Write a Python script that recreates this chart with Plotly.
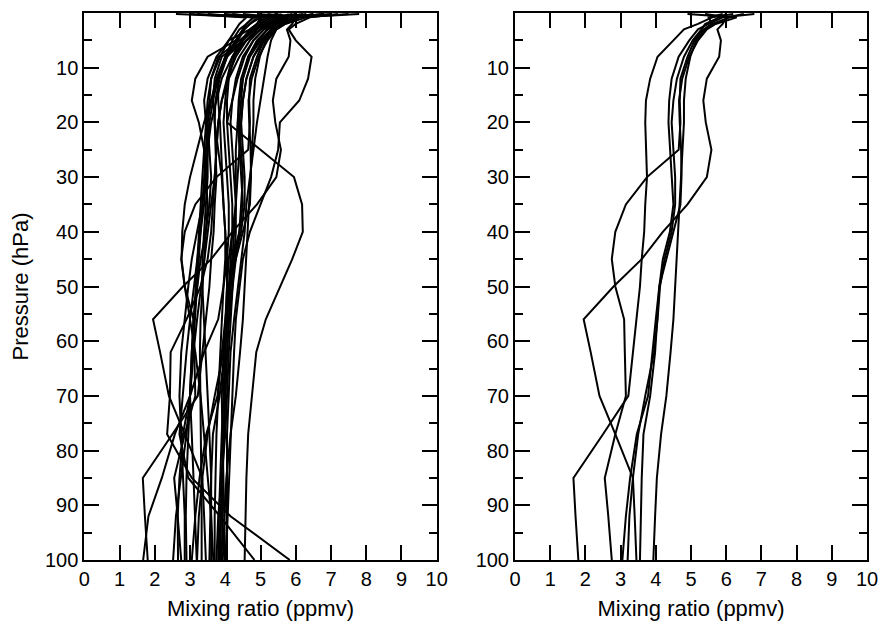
import plotly.graph_objects as go

# ---------------- data ----------------
pressure_hpa = [0.2, 0.8, 2, 3, 5, 8, 12, 16, 20, 25, 30, 35, 40, 45, 50, 56, 62, 70, 77, 85, 92, 100]

# profiles that appear in both panels (mixing ratio, ppmv, at pressure_hpa)
shared_profiles = [
    [6.2, 5.6, 5.2, 4.8, 4.5, 4.05, 3.84, 3.72, 3.7, 3.72, 3.75, 3.7, 3.67, 3.6, 3.55, 3.45, 3.35, 3.22, 2.5, 1.66, 1.72, 1.8],
    [6.5, 6.0, 5.9, 5.75, 5.85, 5.8, 5.45, 5.35, 5.42, 5.58, 5.45, 4.9, 4.2, 3.6, 2.8, 1.95, 2.15, 2.4, 2.85, 3.35, 3.4, 3.45],
    [5.4, 6.1, 5.6, 5.35, 5.1, 4.9, 4.7, 4.68, 4.7, 4.65, 3.75, 3.15, 2.85, 2.75, 2.85, 3.1, 3.12, 3.15, 2.85, 2.55, 2.65, 2.75],
    [6.8, 5.9, 5.5, 5.2, 4.95, 4.65, 4.45, 4.38, 4.36, 4.4, 4.45, 4.5, 4.4, 4.2, 4.1, 4.05, 3.98, 3.84, 3.65, 3.6, 3.57, 3.55],
    [4.9, 6.3, 5.7, 5.45, 5.2, 4.95, 4.75, 4.66, 4.68, 4.72, 4.73, 4.7, 4.5, 4.3, 4.1, 4.0, 3.9, 3.78, 3.46, 3.27, 3.15, 3.05],
    [5.9, 5.5, 5.6, 5.4, 5.15, 4.98, 4.85, 4.8, 4.8, 4.76, 4.72, 4.68, 4.64, 4.6, 4.55, 4.5, 4.42, 4.3, 4.15, 4.03, 3.98, 3.93],
    [6.0, 5.8, 5.4, 5.3, 5.05, 4.8, 4.6, 4.5, 4.45, 4.5, 4.55, 4.55, 4.45, 4.25, 4.12, 4.05, 3.95, 3.7, 3.5, 3.35, 3.25, 3.2],
]

# profiles that appear only in the left panel
left_only_profiles = [
    [7.2, 6.4, 6.0, 5.8, 6.0, 6.45, 6.35, 6.1, 5.55, 5.5, 5.3, 5.0, 4.7, 4.5, 4.4, 4.3, 4.25, 4.2, 4.15, 4.1, 4.05, 4.02],
    [7.8, 6.0, 5.4, 5.1, 4.8, 4.55, 4.35, 4.2, 4.05, 5.0, 5.95, 6.18, 6.2, 5.9, 5.55, 5.15, 4.88, 4.75, 4.65, 4.6, 4.57, 4.55],
    [5.5, 5.0, 4.7, 4.5, 4.3, 3.5, 3.15, 3.05, 3.25, 3.4, 3.45, 3.5, 3.45, 3.4, 3.35, 3.3, 3.28, 3.3, 3.3, 3.32, 3.33, 3.33],
    [4.5, 5.5, 5.2, 5.0, 4.7, 4.4, 4.1, 3.9, 3.8, 3.75, 3.7, 3.65, 3.6, 3.5, 3.3, 2.9, 2.45, 2.43, 2.35, 3.05, 4.15, 5.83],
    [6.8, 5.7, 5.3, 5.0, 4.6, 4.2, 3.9, 3.75, 3.6, 3.5, 3.45, 3.4, 3.3, 3.2, 3.1, 3.0, 2.9, 2.8, 2.7, 2.95, 3.85, 4.83],
    [3.2, 5.0, 4.9, 4.7, 4.45, 4.2, 4.05, 4.0, 3.95, 4.0, 4.05, 4.1, 4.1, 4.05, 3.95, 3.8, 3.4, 3.0, 2.57, 2.2, 1.82, 1.67],
    [5.0, 4.8, 4.6, 4.4, 4.2, 4.0, 3.8, 3.6, 3.4, 3.2, 3.0, 2.85, 2.78, 2.76, 2.85, 3.0, 3.15, 3.3, 3.4, 3.5, 3.6, 3.66],
    [5.8, 5.6, 5.3, 5.1, 4.8, 4.5, 4.3, 4.2, 4.15, 4.2, 4.25, 4.3, 4.3, 4.25, 4.2, 4.15, 4.1, 4.05, 4.0, 3.9, 3.8, 3.75],
    [4.0, 5.3, 5.0, 4.85, 4.5, 3.9, 3.7, 3.65, 3.7, 3.8, 3.9, 3.95, 4.0, 4.05, 4.05, 4.02, 4.0, 3.95, 3.9, 3.85, 3.82, 3.8],
    [6.5, 6.0, 5.6, 5.3, 5.0, 4.7, 4.5, 4.4, 4.35, 4.3, 4.3, 4.3, 4.25, 4.2, 4.15, 4.1, 4.05, 4.0, 3.95, 3.9, 3.88, 3.85],
    [3.5, 4.8, 4.6, 4.5, 4.3, 4.0, 3.75, 3.6, 3.5, 3.45, 3.4, 3.35, 3.3, 3.25, 3.2, 3.15, 3.1, 3.0, 2.9, 2.75, 2.6, 2.52],
    [7.0, 5.5, 5.2, 5.0, 4.6, 4.0, 3.8, 3.8, 3.85, 3.88, 3.9, 3.95, 4.0, 4.0, 3.95, 3.9, 3.85, 3.8, 3.75, 3.72, 3.7, 3.7],
    [5.2, 6.0, 5.6, 5.4, 5.1, 4.8, 4.6, 4.5, 4.45, 4.4, 4.35, 4.3, 4.2, 4.1, 4.05, 4.0, 3.95, 3.9, 3.92, 3.95, 3.97, 4.0],
    [3.0, 4.6, 4.4, 4.3, 4.1, 3.85, 3.6, 3.5, 3.45, 3.4, 3.35, 3.3, 3.25, 3.2, 3.15, 3.1, 3.05, 3.0, 2.95, 2.9, 2.88, 2.9],
    [6.0, 5.4, 5.1, 4.9, 4.6, 4.3, 4.05, 3.9, 3.8, 3.75, 3.7, 3.6, 3.5, 3.4, 3.3, 3.2, 3.1, 3.0, 2.8, 2.7, 2.65, 2.66],
    [5.6, 5.3, 5.0, 4.8, 4.4, 3.8, 3.6, 3.55, 3.5, 3.55, 3.6, 3.55, 3.45, 3.3, 3.2, 3.1, 3.05, 3.0, 3.05, 3.1, 3.15, 3.19],
    [4.2, 5.1, 4.9, 4.75, 4.5, 4.25, 4.1, 4.05, 4.05, 4.1, 4.15, 4.2, 4.2, 4.15, 4.1, 4.05, 4.0, 3.98, 3.95, 3.93, 3.92, 3.9],
    [6.3, 5.7, 5.4, 5.2, 4.9, 4.65, 4.5, 4.45, 4.4, 4.45, 4.5, 4.45, 4.4, 4.3, 4.2, 4.1, 4.05, 4.0, 3.95, 3.9, 3.85, 3.82],
    [5.0, 5.2, 4.9, 4.7, 4.1, 3.75, 3.5, 3.4, 3.45, 3.5, 3.5, 3.45, 3.4, 3.35, 3.35, 3.4, 3.45, 3.5, 3.55, 3.6, 3.6, 3.6],
    [7.5, 6.1, 5.7, 5.45, 5.3, 5.2, 5.1, 5.0, 4.9, 4.8, 4.7, 4.6, 4.55, 4.45, 4.35, 4.25, 4.15, 4.1, 4.05, 4.05, 4.05, 4.05],
    [2.6, 4.9, 4.7, 4.55, 4.35, 4.05, 3.8, 3.65, 3.55, 3.5, 3.45, 3.35, 3.2, 3.05, 2.95, 2.85, 2.75, 2.7, 2.75, 2.8, 2.85, 2.85],
]

x_tick_values = list(range(0, 11))
y_tick_values = [10, 20, 30, 40, 50, 60, 70, 80, 90, 100]
y_minor_values = [5, 15, 25, 35, 45, 55, 65, 75, 85, 95]

x_title = "Mixing ratio (ppmv)"
y_title = "Pressure (hPa)"

# ---------------- figure ----------------
FONT = "Liberation Sans, Arial, Helvetica, sans-serif"
LINE = dict(color="black", width=2)

fig = go.Figure()

for prof in shared_profiles + left_only_profiles:
    fig.add_trace(go.Scatter(x=prof, y=pressure_hpa, mode="lines", line=LINE,
                             xaxis="x", yaxis="y", showlegend=False, hoverinfo="skip"))
for prof in shared_profiles:
    fig.add_trace(go.Scatter(x=prof, y=pressure_hpa, mode="lines", line=LINE,
                             xaxis="x2", yaxis="y2", showlegend=False, hoverinfo="skip"))

W, H = 882, 621
ml, mr, mt, mb = 84, 15, 13, 61
pw = W - ml - mr


def xaxis(domain, anchor):
    return dict(
        domain=domain, anchor=anchor, range=[0, 10], tickvals=x_tick_values,
        ticks="inside", ticklen=15, tickwidth=1.8, tickcolor="black",
        showline=True, linecolor="black", linewidth=2, mirror="allticks",
        showgrid=False, zeroline=False, automargin=False,
        tickfont=dict(family=FONT, size=20, color="black"),
        title=dict(text=x_title, font=dict(family=FONT, size=22, color="black"), standoff=12),
    )


def yaxis(anchor, title):
    d = dict(
        domain=[0, 1], anchor=anchor, range=[100, 0], tickvals=y_tick_values,
        ticks="inside", ticklen=15, tickwidth=1.8, tickcolor="black",
        showline=True, linecolor="black", linewidth=2, mirror="allticks",
        showgrid=False, zeroline=False, automargin=False,
        tickfont=dict(family=FONT, size=20, color="black"),
        minor=dict(tickvals=y_minor_values, ticks="inside", ticklen=8,
                   tickwidth=1.8, tickcolor="black", showgrid=False),
    )
    if title:
        d["title"] = dict(text=title, font=dict(family=FONT, size=22, color="black"), standoff=10)
    return d


fig.update_layout(
    width=W, height=H,
    margin=dict(l=ml, r=mr, t=mt, b=mb, pad=0),
    paper_bgcolor="white", plot_bgcolor="white",
    xaxis=xaxis([0.3 / pw, 352.7 / pw], "y"),
    yaxis=yaxis("x", y_title),
    xaxis2=xaxis([431.0 / pw, 1.0], "y2"),
    yaxis2=yaxis("x2", None),
    showlegend=False,
)

fig.write_html("out.html")
